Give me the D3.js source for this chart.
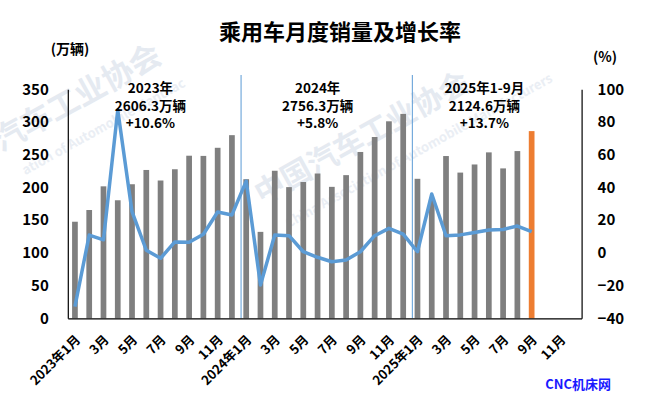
<!DOCTYPE html>
<html>
<head>
<meta charset="utf-8">
<script src="https://cdn.jsdelivr.net/npm/d3@7"></script>
<style>
  html, body { margin: 0; padding: 0; background: #fff; }
  svg { display: block; }
  text { font-family: "Noto Sans CJK SC", "Noto Sans", sans-serif; }
</style>
</head>
<body>
<svg id="chart" width="647" height="413"></svg>
<script>
// ---------- data ----------
const categories = [
  "2023年1月","2月","3月","4月","5月","6月","7月","8月","9月","10月","11月","12月",
  "2024年1月","2月","3月","4月","5月","6月","7月","8月","9月","10月","11月","12月",
  "2025年1月","2月","3月","4月","5月","6月","7月","8月","9月","10月","11月","12月"
];
const sales = [
  147.6,165.5,201.7,180.4,204.9,226.7,210.6,227.8,248.5,248.2,260.6,279.9,
  212.6,132.1,225.5,200.5,208.3,221.3,200.9,218.8,254.2,277.1,301.1,312.4,
  213.2,181.3,248.0,222.7,235.1,253.6,229.1,255.6,286.1
];
const growth = [
  -32.9,10.9,8.0,87.3,25.2,1.6,-3.3,6.7,6.5,11.4,25.0,23.2,
  43.9,-19.6,10.9,10.5,0.7,-2.7,-5.4,-4.3,0.7,10.5,15.0,11.5,
  0.7,36.0,10.5,11.0,12.4,14.0,14.3,16.4,13.0
];
const leftTicks = [0,50,100,150,200,250,300,350];
const rightTicks = [-40,-20,0,20,40,60,80,100];
const yearNotes = [
  { start: 0,  lines: ["2023年","2606.3万辆","+10.6%"] },
  { start: 12, lines: ["2024年","2756.3万辆","+5.8%"] },
  { start: 24, lines: ["2025年1-9月","2124.6万辆","+13.7%"] }
];
const highlightIndex = 32;

// ---------- layout ----------
const svg = d3.select("#chart");
const L = 67.8, R = 581.6, T = 89.3, B = 318.3;

const x = d3.scaleBand().domain(d3.range(categories.length)).range([L, R]).padding(0);
const yL = d3.scaleLinear().domain([0, 350]).range([B, T]);
const yR = d3.scaleLinear().domain([-40, 100]).range([B, T]);

// ---------- watermark ----------
const wm = svg.append("g").attr("class", "watermark");
const wmCopies = [
  { x: 1, y: 152, big: "汽车工业协会", bigSize: 31, small: "ation of Automobile Manufac", sx: 10, sy: 32 },
  { x: 262, y: 205, big: "中国汽车工业协会", bigSize: 30, small: "China Association of Automobile Manufacturers", sx: 12, sy: 33 }
];
wmCopies.forEach(c => {
  const g = wm.append("g").attr("transform", `translate(${c.x},${c.y}) rotate(-29)`);
  g.append("text").text(c.big)
    .attr("font-size", c.bigSize).attr("font-weight", 700).attr("fill", "#e5eaf1");
  g.append("text").text(c.small)
    .attr("x", c.sx).attr("y", c.sy)
    .attr("font-size", 13).attr("font-weight", 700).attr("fill", "#eaeef4");
});

// ---------- title ----------
svg.append("text").attr("x", 340).attr("y", 40).attr("text-anchor", "middle")
  .attr("font-size", 22).attr("font-weight", 700).attr("fill", "#000")
  .text("乘用车月度销量及增长率");
svg.append("text").attr("x", 70).attr("y", 54).attr("text-anchor", "middle")
  .attr("font-size", 14).attr("font-weight", 700).text("(万辆)");
svg.append("text").attr("x", 605).attr("y", 62).attr("text-anchor", "middle")
  .attr("font-size", 14).attr("font-weight", 700).text("(%)");

// ---------- year separators ----------
[12, 24].forEach(i => {
  svg.append("line")
    .attr("x1", x(i) + 2).attr("x2", x(i) + 2)
    .attr("y1", 75).attr("y2", B)
    .attr("stroke", "#5b9bd5").attr("stroke-width", 1);
});

// ---------- bars ----------
const bw = x.bandwidth() * 0.4;
svg.append("g").selectAll("rect").data(sales).join("rect")
  .attr("x", (d, i) => x(i) + x.bandwidth() / 2 - bw / 2)
  .attr("y", d => yL(d))
  .attr("width", bw)
  .attr("height", d => B - yL(d))
  .attr("fill", (d, i) => i === highlightIndex ? "#ed7d31" : "#7f7f7f");

// ---------- line ----------
const line = d3.line()
  .x((d, i) => x(i) + x.bandwidth() / 2)
  .y(d => yR(d));
svg.append("path").datum(growth)
  .attr("d", line)
  .attr("fill", "none")
  .attr("stroke", "#5b9bd5")
  .attr("stroke-width", 3.5)
  .attr("stroke-linejoin", "round");

// ---------- axes ----------
const axL = svg.append("g").attr("transform", `translate(${L},0)`)
  .call(d3.axisLeft(yL).tickValues(leftTicks).tickSize(0).tickPadding(19));
const axR = svg.append("g").attr("transform", `translate(${R},0)`)
  .call(d3.axisRight(yR).tickValues(rightTicks).tickSize(0).tickPadding(16));
const axB = svg.append("g").attr("transform", `translate(0,${B})`)
  .call(d3.axisBottom(x)
    .tickValues(d3.range(0, categories.length, 2))
    .tickFormat(i => categories[i])
    .tickSize(0).tickPadding(0));

[axL, axR].forEach(a => {
  a.selectAll("text").attr("font-size", 15).attr("font-weight", 700).attr("fill", "#000")
    .attr("font-family", "\"Noto Sans CJK SC\", sans-serif");
  a.select(".domain").attr("stroke", "#000").attr("stroke-width", 1.2);
});
axB.select(".domain").attr("stroke", "#000").attr("stroke-width", 1.2);
axB.selectAll("text")
  .attr("font-size", 13).attr("font-weight", 700).attr("fill", "#000")
  .attr("font-family", "\"Noto Sans CJK SC\", sans-serif")
  .attr("text-anchor", "end")
  .attr("y", 0).attr("dy", "0.35em")
  .attr("transform", "translate(3,19) rotate(-45)");

// ---------- year annotations ----------
yearNotes.forEach(n => {
  const cx = n.start === 24 ? x(n.start) + 74 : x(n.start + 6) + (n.start === 0 ? -3 : -7);
  n.lines.forEach((t, k) => {
    svg.append("text").attr("x", cx).attr("y", 93 + k * 17.5)
      .attr("text-anchor", "middle").attr("font-size", 13.5).attr("font-weight", 700)
      .attr("fill", "#000").text(t);
  });
});

// ---------- source ----------
svg.append("text").attr("x", 611).attr("y", 389).attr("text-anchor", "end")
  .attr("font-size", 13).attr("font-weight", 700).attr("fill", "#1a1aff")
  .text("CNC机床网");
</script>
</body>
</html>
